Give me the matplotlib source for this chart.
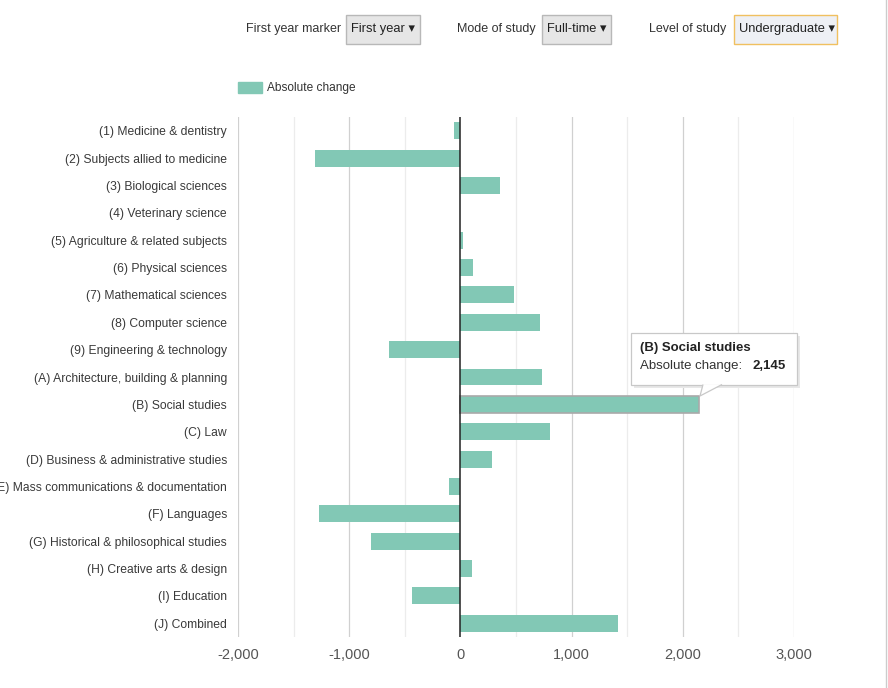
import matplotlib.pyplot as plt
from matplotlib.patches import FancyBboxPatch, Rectangle, Polygon

plt.rcParams['font.family'] = ['Liberation Sans', 'DejaVu Sans']

# Data
subjects = [
    '(1) Medicine & dentistry', '(2) Subjects allied to medicine',
    '(3) Biological sciences', '(4) Veterinary science',
    '(5) Agriculture & related subjects', '(6) Physical sciences',
    '(7) Mathematical sciences', '(8) Computer science',
    '(9) Engineering & technology', '(A) Architecture, building & planning',
    '(B) Social studies', '(C) Law', '(D) Business & administrative studies',
    '(E) Mass communications & documentation', '(F) Languages',
    '(G) Historical & philosophical studies', '(H) Creative arts & design',
    '(I) Education', '(J) Combined'
]
abs_change = [-56, -1312, 356, 0, 20, 114, 479, 715, -639, 735,
              2145, 808, 284, -101, -1273, -802, 105, -439, 1415]
x_ticks = [-2000, -1000, 0, 1000, 2000, 3000]
x_minor = [-1500, -500, 500, 1500, 2500]
highlight = '(B) Social studies'

bar_color = '#82c8b5'

fig = plt.figure(figsize=(8.88, 6.88), dpi=100)
ax = fig.add_axes([238 / 888, 1 - 637 / 688, 556 / 888, 520 / 688])

ypos = list(range(len(subjects)))
bars = ax.barh(ypos, abs_change, height=0.62, color=bar_color, zorder=3)
hi = subjects.index(highlight)
bars[hi].set_edgecolor('#a9a9a9')
bars[hi].set_linewidth(1.2)

ax.set_xlim(-2000, 3000)
ax.set_ylim(len(subjects) - 0.5, -0.5)
for v in x_ticks:
    ax.axvline(v, color='#d0d0d0' if v != 0 else '#222222',
               lw=0.9 if v != 0 else 1.1, zorder=2 if v else 4)
for v in x_minor:
    ax.axvline(v, color='#ececec', lw=0.9, zorder=2)

ax.set_xticks(x_ticks)
ax.set_xticklabels([f'{v:,}' for v in x_ticks], fontsize=10.5, color='#555555')
ax.set_yticks(ypos)
ax.set_yticklabels(subjects, fontsize=8.7, color='#3a3a3a')
ax.tick_params(axis='both', length=0)
ax.tick_params(axis='y', pad=8)
ax.tick_params(axis='x', pad=8)
for s in ax.spines.values():
    s.set_visible(False)

# Legend
fig.patches.append(Rectangle((238 / 888, 1 - 93 / 688), 24 / 888, 11 / 688,
                             transform=fig.transFigure, color=bar_color))
fig.text(267 / 888, 1 - 88 / 688, 'Absolute change', fontsize=8.6,
         color='#333333', va='center')

# Top controls
controls = [('First year marker', 'First year', 246, 346, 420, False),
            ('Mode of study', 'Full-time', 457, 542, 611, False),
            ('Level of study', 'Undergraduate', 649, 734, 837, True)]
for label, value, lx, bx0, bx1, active in controls:
    fig.text(lx / 888, 1 - 29 / 688, label, fontsize=9, color='#333333',
             va='center')
    box = FancyBboxPatch((bx0 / 888, 1 - 44 / 688), (bx1 - bx0) / 888,
                         29 / 688, boxstyle='square,pad=0',
                         transform=fig.transFigure,
                         facecolor='#eef0f5' if active else '#e6e6e6',
                         edgecolor='#f0c060' if active else '#b8b8b8',
                         lw=1.0)
    fig.patches.append(box)
    fig.text((bx0 + 5) / 888, 1 - 29 / 688, value + ' \u25be', fontsize=9.3,
             color='#222222', va='center')

# Tooltip
fig.patches.append(FancyBboxPatch((634 / 888, 1 - 388 / 688), 166 / 888,
                                  52 / 688, boxstyle='square,pad=0',
                                  transform=fig.transFigure,
                                  facecolor='#e8e8e8', edgecolor='none'))
fig.patches.append(FancyBboxPatch((631 / 888, 1 - 385 / 688), 166 / 888,
                                  52 / 688, boxstyle='square,pad=0',
                                  transform=fig.transFigure,
                                  facecolor='white', edgecolor='#c8c8c8',
                                  lw=0.9))
fig.patches.append(Polygon([(703 / 888, 1 - 384.5 / 688),
                            (700 / 888, 1 - 396 / 688),
                            (722 / 888, 1 - 384.5 / 688)],
                           closed=False, transform=fig.transFigure,
                           facecolor='white', edgecolor='#c8c8c8', lw=0.9))
fig.text(640 / 888, 1 - 348 / 688, highlight, fontsize=9.5,
         fontweight='bold', color='#222222', va='center')
fig.text(640 / 888, 1 - 366 / 688,
         'Absolute change: ', fontsize=9.5, color='#333333', va='center')
fig.text(752 / 888, 1 - 366 / 688, f'{abs_change[hi]:,}', fontsize=9.5,
         fontweight='bold', color='#222222', va='center')

# right edge frame line
fig.add_artist(plt.Line2D([886 / 888, 886 / 888], [0, 1],
                          transform=fig.transFigure, color='#cccccc', lw=1))

fig.savefig('out.png', dpi=100)
